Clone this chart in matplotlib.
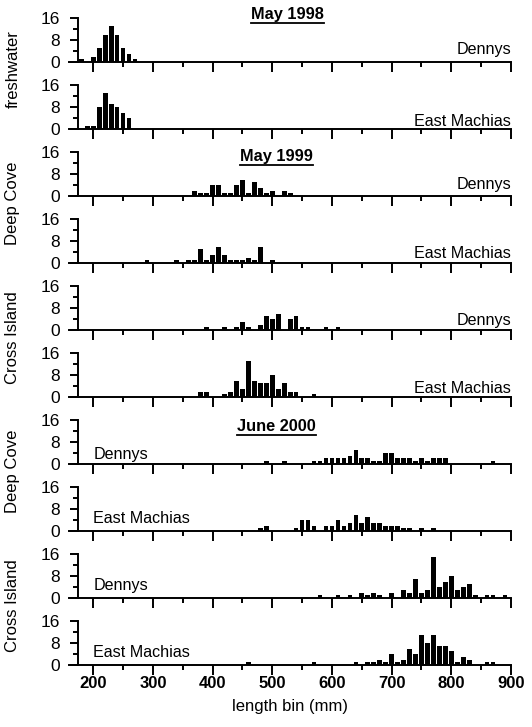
import matplotlib.pyplot as plt
from matplotlib.lines import Line2D
from matplotlib.ticker import MultipleLocator

plt.rcParams['font.family'] = ['Liberation Sans', 'DejaVu Sans']

# Datos: centro del intervalo de longitud (mm) y numero de peces
# May 1998 - freshwater
fw98_dennys_bins = [180, 200, 210, 220, 230, 240, 250, 260, 270]
fw98_dennys_n = [1, 2, 5, 10, 13, 10, 5, 3, 1]
fw98_em_bins = [190, 200, 210, 220, 230, 240, 250, 260]
fw98_em_n = [1, 1, 8, 13, 9, 8, 6, 4]

# May 1999 - Deep Cove
dc99_dennys_bins = [370, 380, 390, 400, 410, 420, 430, 440, 450, 460, 470, 480, 490, 500, 520, 530]
dc99_dennys_n = [2, 1, 1, 4, 4, 1, 1, 4, 6, 1, 5, 3, 1, 2, 2, 1]
dc99_em_bins = [290, 340, 360, 370, 380, 390, 400, 410, 420, 430, 440, 450, 460, 470, 480, 500]
dc99_em_n = [1, 1, 1, 1, 5, 1, 3, 6, 3, 1, 1, 1, 2, 1, 6, 1]

# May 1999 - Cross Island
ci99_dennys_bins = [390, 420, 440, 450, 460, 480, 490, 500, 510, 530, 540, 550, 560, 590, 610]
ci99_dennys_n = [1, 1, 1, 3, 1, 2, 5, 4, 6, 4, 5, 1, 1, 1, 1]
ci99_em_bins = [380, 390, 420, 430, 440, 450, 460, 470, 480, 490, 500, 510, 520, 530, 540, 570]
ci99_em_n = [2, 2, 1, 2, 6, 3, 13, 6, 5, 5, 8, 3, 5, 2, 2, 1]

# June 2000 - Deep Cove
dc00_dennys_bins = [490, 520, 570, 580, 590, 600, 610, 620, 630, 640, 650, 660, 670, 680,
                    690, 700, 710, 720, 730, 740, 750, 760, 770, 780, 790, 870]
dc00_dennys_n = [1, 1, 1, 1, 2, 2, 2, 2, 3, 5, 2, 2, 1, 1,
                 4, 4, 2, 2, 2, 1, 2, 1, 2, 2, 2, 1]
dc00_em_bins = [480, 490, 540, 550, 560, 570, 590, 600, 610, 620, 630, 640, 650, 660,
                670, 680, 690, 700, 710, 720, 730, 750, 770]
dc00_em_n = [1, 2, 1, 4, 4, 2, 2, 2, 4, 2, 3, 6, 3, 5,
             3, 3, 2, 2, 2, 1, 1, 1, 1]

# June 2000 - Cross Island
ci00_dennys_bins = [580, 610, 630, 650, 660, 670, 680, 700, 720, 730, 740, 750, 760, 770,
                    780, 790, 800, 810, 820, 830, 840, 860, 870, 890]
ci00_dennys_n = [1, 1, 1, 2, 1, 2, 1, 2, 3, 2, 7, 2, 3, 15,
                 4, 6, 8, 3, 4, 5, 1, 1, 1, 1]
ci00_em_bins = [460, 570, 640, 660, 670, 680, 690, 700, 710, 720, 730, 740, 750, 760,
                770, 780, 790, 800, 810, 820, 830, 860, 870]
ci00_em_n = [1, 1, 1, 1, 1, 2, 1, 4, 1, 2, 6, 4, 11, 8,
             11, 7, 7, 5, 1, 3, 2, 1, 1]

panels = [
    (fw98_dennys_bins, fw98_dennys_n, 'Dennys'),
    (fw98_em_bins, fw98_em_n, 'East Machias'),
    (dc99_dennys_bins, dc99_dennys_n, 'Dennys'),
    (dc99_em_bins, dc99_em_n, 'East Machias'),
    (ci99_dennys_bins, ci99_dennys_n, 'Dennys'),
    (ci99_em_bins, ci99_em_n, 'East Machias'),
    (dc00_dennys_bins, dc00_dennys_n, 'Dennys'),
    (dc00_em_bins, dc00_em_n, 'East Machias'),
    (ci00_dennys_bins, ci00_dennys_n, 'Dennys'),
    (ci00_em_bins, ci00_em_n, 'East Machias'),
]
# altura (en unidades de datos) de las etiquetas de rio
label_y = [4.4, 2.8, 4.0, 3.5, 3.4, 3.2, 3.6, 4.4, 4.4, 4.4]

W, H = 532, 727
fig = plt.figure(figsize=(W / 100, H / 100), dpi=100)

x_left, x_right = 69.4, 511.0
axes = []
for i, (bins, n, river) in enumerate(panels):
    y0 = 62 + 67 * i  # linea de cero en pixeles desde arriba
    ax = fig.add_axes([x_left / W, 1 - y0 / H, (x_right - x_left) / W, 44 / H])
    ax.bar(bins, n, width=7.8, color='black', align='center')
    ax.set_xlim(160, 900)
    ax.set_ylim(0, 16)
    ax.patch.set_alpha(0)
    for s in ['top', 'right']:
        ax.spines[s].set_visible(False)
    ax.spines['left'].set_position(('data', 175))
    ax.spines['left'].set_bounds(0, 16)
    ax.spines['left'].set_linewidth(1.4)
    ax.spines['bottom'].set_linewidth(1.4)
    ax.set_yticks([0, 8, 16])
    ax.yaxis.set_minor_locator(MultipleLocator(4))
    ax.set_xticks(range(200, 901, 100))
    ax.set_xticks(range(250, 900, 100), minor=True)
    ax.tick_params(axis='y', which='major', length=6, width=1.4, labelsize=12.5, pad=7)
    ax.tick_params(axis='y', which='minor', length=3.5, width=1.4)
    ax.tick_params(axis='x', which='major', length=7, width=1.4, labelsize=12, pad=1)
    ax.tick_params(axis='x', which='minor', length=3.5, width=1.4)
    if i < 9:
        ax.tick_params(axis='x', labelbottom=False)
    else:
        for lab in ax.get_xticklabels():
            lab.set_fontweight('bold')
        ax.set_xlabel('length bin (mm)', fontsize=12, labelpad=6)
    # etiqueta del rio
    if i < 6:
        ax.text(900, label_y[i], river, ha='right', va='center', fontsize=11.6)
    else:
        ax.text(200, label_y[i], river, ha='left', va='center', fontsize=11.6)
    axes.append(ax)

# titulos subrayados
titles = [(0, 526, 17.1, 'May 1998'), (2, 507, 14.3, 'May 1999'), (6, 507, 13.5, 'June 2000')]
title_texts = []
for idx, xt, yt, txt in titles:
    t = axes[idx].text(xt, yt, txt, ha='center', va='center', fontsize=11.8,
                       fontweight='bold', clip_on=False)
    title_texts.append(t)

# etiquetas de sitio (verticales)
groups = [(0, 'freshwater'), (2, 'Deep Cove'), (4, 'Cross Island'), (6, 'Deep Cove'), (8, 'Cross Island')]
for i, name in groups:
    top = 62 + 67 * i - 44
    bottom = 62 + 67 * (i + 1)
    yc = (top + bottom) / 2 - 4
    fig.text(13 / W, 1 - yc / H, name, rotation=90, ha='center', va='center', fontsize=12)

fig.canvas.draw()
renderer = fig.canvas.get_renderer()
for t in title_texts:
    bb = t.get_window_extent(renderer)
    yline = (bb.y0 - 0.5) / H
    fig.add_artist(Line2D([bb.x0 / W, bb.x1 / W], [yline, yline],
                          transform=fig.transFigure, color='black', linewidth=1.3))

plt.savefig('out.png', dpi=100)
